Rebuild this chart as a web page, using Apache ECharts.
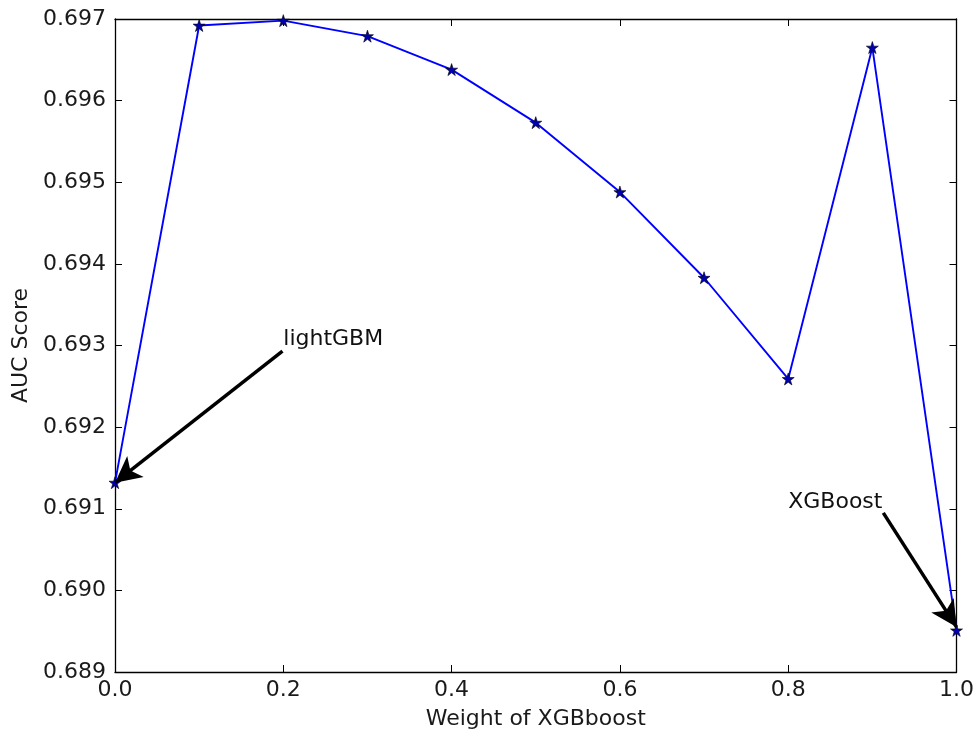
<!DOCTYPE html>
<html>
<head>
<meta charset="utf-8">
<script src="https://cdn.jsdelivr.net/npm/echarts@6/dist/echarts.min.js"></script>
<style>html,body{margin:0;padding:0;background:#fff}#c{width:977px;height:742px}</style>
</head>
<body>
<div id="c"></div>
<script>
var weights = [0.0, 0.1, 0.2, 0.3, 0.4, 0.5, 0.6, 0.7, 0.8, 0.9, 1.0];
var aucScores = [0.69132, 0.69692, 0.69698, 0.69679, 0.69638, 0.69573, 0.69488, 0.69383, 0.69259, 0.69665, 0.68951];
var xTickLabels = ['0.0', '0.2', '0.4', '0.6', '0.8', '1.0'];
var yTickLabels = ['0.689', '0.690', '0.691', '0.692', '0.693', '0.694', '0.695', '0.696', '0.697'];
var annotations = [
  {text: 'lightGBM', textAt: [0.2, 0.693], arrowFrom: [0.199, 0.69293], arrowTo: [0.0, 0.69132]},
  {text: 'XGBoost', textAt: [0.8, 0.691], arrowFrom: [0.913, 0.69095], arrowTo: [1.0, 0.68955]}
];

var FONT = 'DejaVu Sans';
var TXT = '#1a1a1a';
var FS = 22;
var chart = echarts.init(document.getElementById('c'), null, {renderer: 'canvas'});

function axisBase() {
  return {
    axisLine: {show: true, onZero: false, lineStyle: {color: '#000', width: 1.3}},
    axisTick: {show: true, inside: true, length: 7, lineStyle: {color: '#000', width: 1}},
    splitLine: {show: false}
  };
}

var option = {
  backgroundColor: '#fff',
  animation: false,
  grid: {left: 115, right: 20, top: 19, bottom: 70, containLabel: false},
  xAxis: [
    Object.assign(axisBase(), {
      type: 'value', min: 0, max: 1, interval: 0.2, position: 'bottom',
      name: 'Weight of XGBboost', nameLocation: 'middle', nameGap: 36,
      nameTextStyle: {fontFamily: FONT, fontSize: FS, color: TXT},
      axisLabel: {fontFamily: FONT, fontSize: FS, color: TXT, margin: 7,
        formatter: function (v) { return xTickLabels[Math.round(v / 0.2)]; }}
    }),
    Object.assign(axisBase(), {
      type: 'value', min: 0, max: 1, interval: 0.2, position: 'top',
      axisLabel: {show: false}
    })
  ],
  yAxis: [
    Object.assign(axisBase(), {
      type: 'value', min: 0.689, max: 0.697, interval: 0.001, position: 'left',
      name: 'AUC Score', nameLocation: 'middle', nameGap: 83,
      nameTextStyle: {fontFamily: FONT, fontSize: FS, color: TXT},
      axisLabel: {fontFamily: FONT, fontSize: FS, color: TXT, margin: 9,
        formatter: function (v) { return yTickLabels[Math.round((v - 0.689) / 0.001)]; }}
    }),
    Object.assign(axisBase(), {
      type: 'value', min: 0.689, max: 0.697, interval: 0.001, position: 'right',
      axisLabel: {show: false}
    })
  ],
  series: [
    {
      type: 'line',
      data: weights.map(function (w, i) { return [w, aucScores[i]]; }),
      lineStyle: {color: '#0000ff', width: 1.9},
      symbol: 'path://M50,0 L61.8,36.3 L100,36.3 L69.1,58.8 L80.9,95.1 L50,72.6 L19.1,95.1 L30.9,58.8 L0,36.3 L38.2,36.3 Z',
      symbolSize: 12,
      itemStyle: {color: '#0000b0', borderColor: '#000', borderWidth: 0.6},
      z: 3,
      markLine: {
        silent: true,
        symbol: ['none', 'arrow'],
        symbolSize: [20, 26],
        lineStyle: {color: '#000', width: 3.5, type: 'solid'},
        itemStyle: {color: '#000'},
        label: {show: false},
        emphasis: {disabled: true},
        data: annotations.map(function (a) {
          return [{coord: a.arrowFrom}, {coord: a.arrowTo}];
        })
      }
    },
    {
      type: 'scatter',
      symbolSize: 0,
      silent: true,
      data: annotations.map(function (a) { return {value: a.textAt, name: a.text}; }),
      label: {
        show: true, position: [0, 0], align: 'left', verticalAlign: 'bottom',
        offset: [0, 5],
        fontFamily: FONT, fontSize: FS, color: '#111', opacity: 1,
        formatter: function (p) { return p.name; }
      },
      itemStyle: {opacity: 1},
      z: 5
    }
  ]
};
chart.setOption(option);
</script>
</body>
</html>
